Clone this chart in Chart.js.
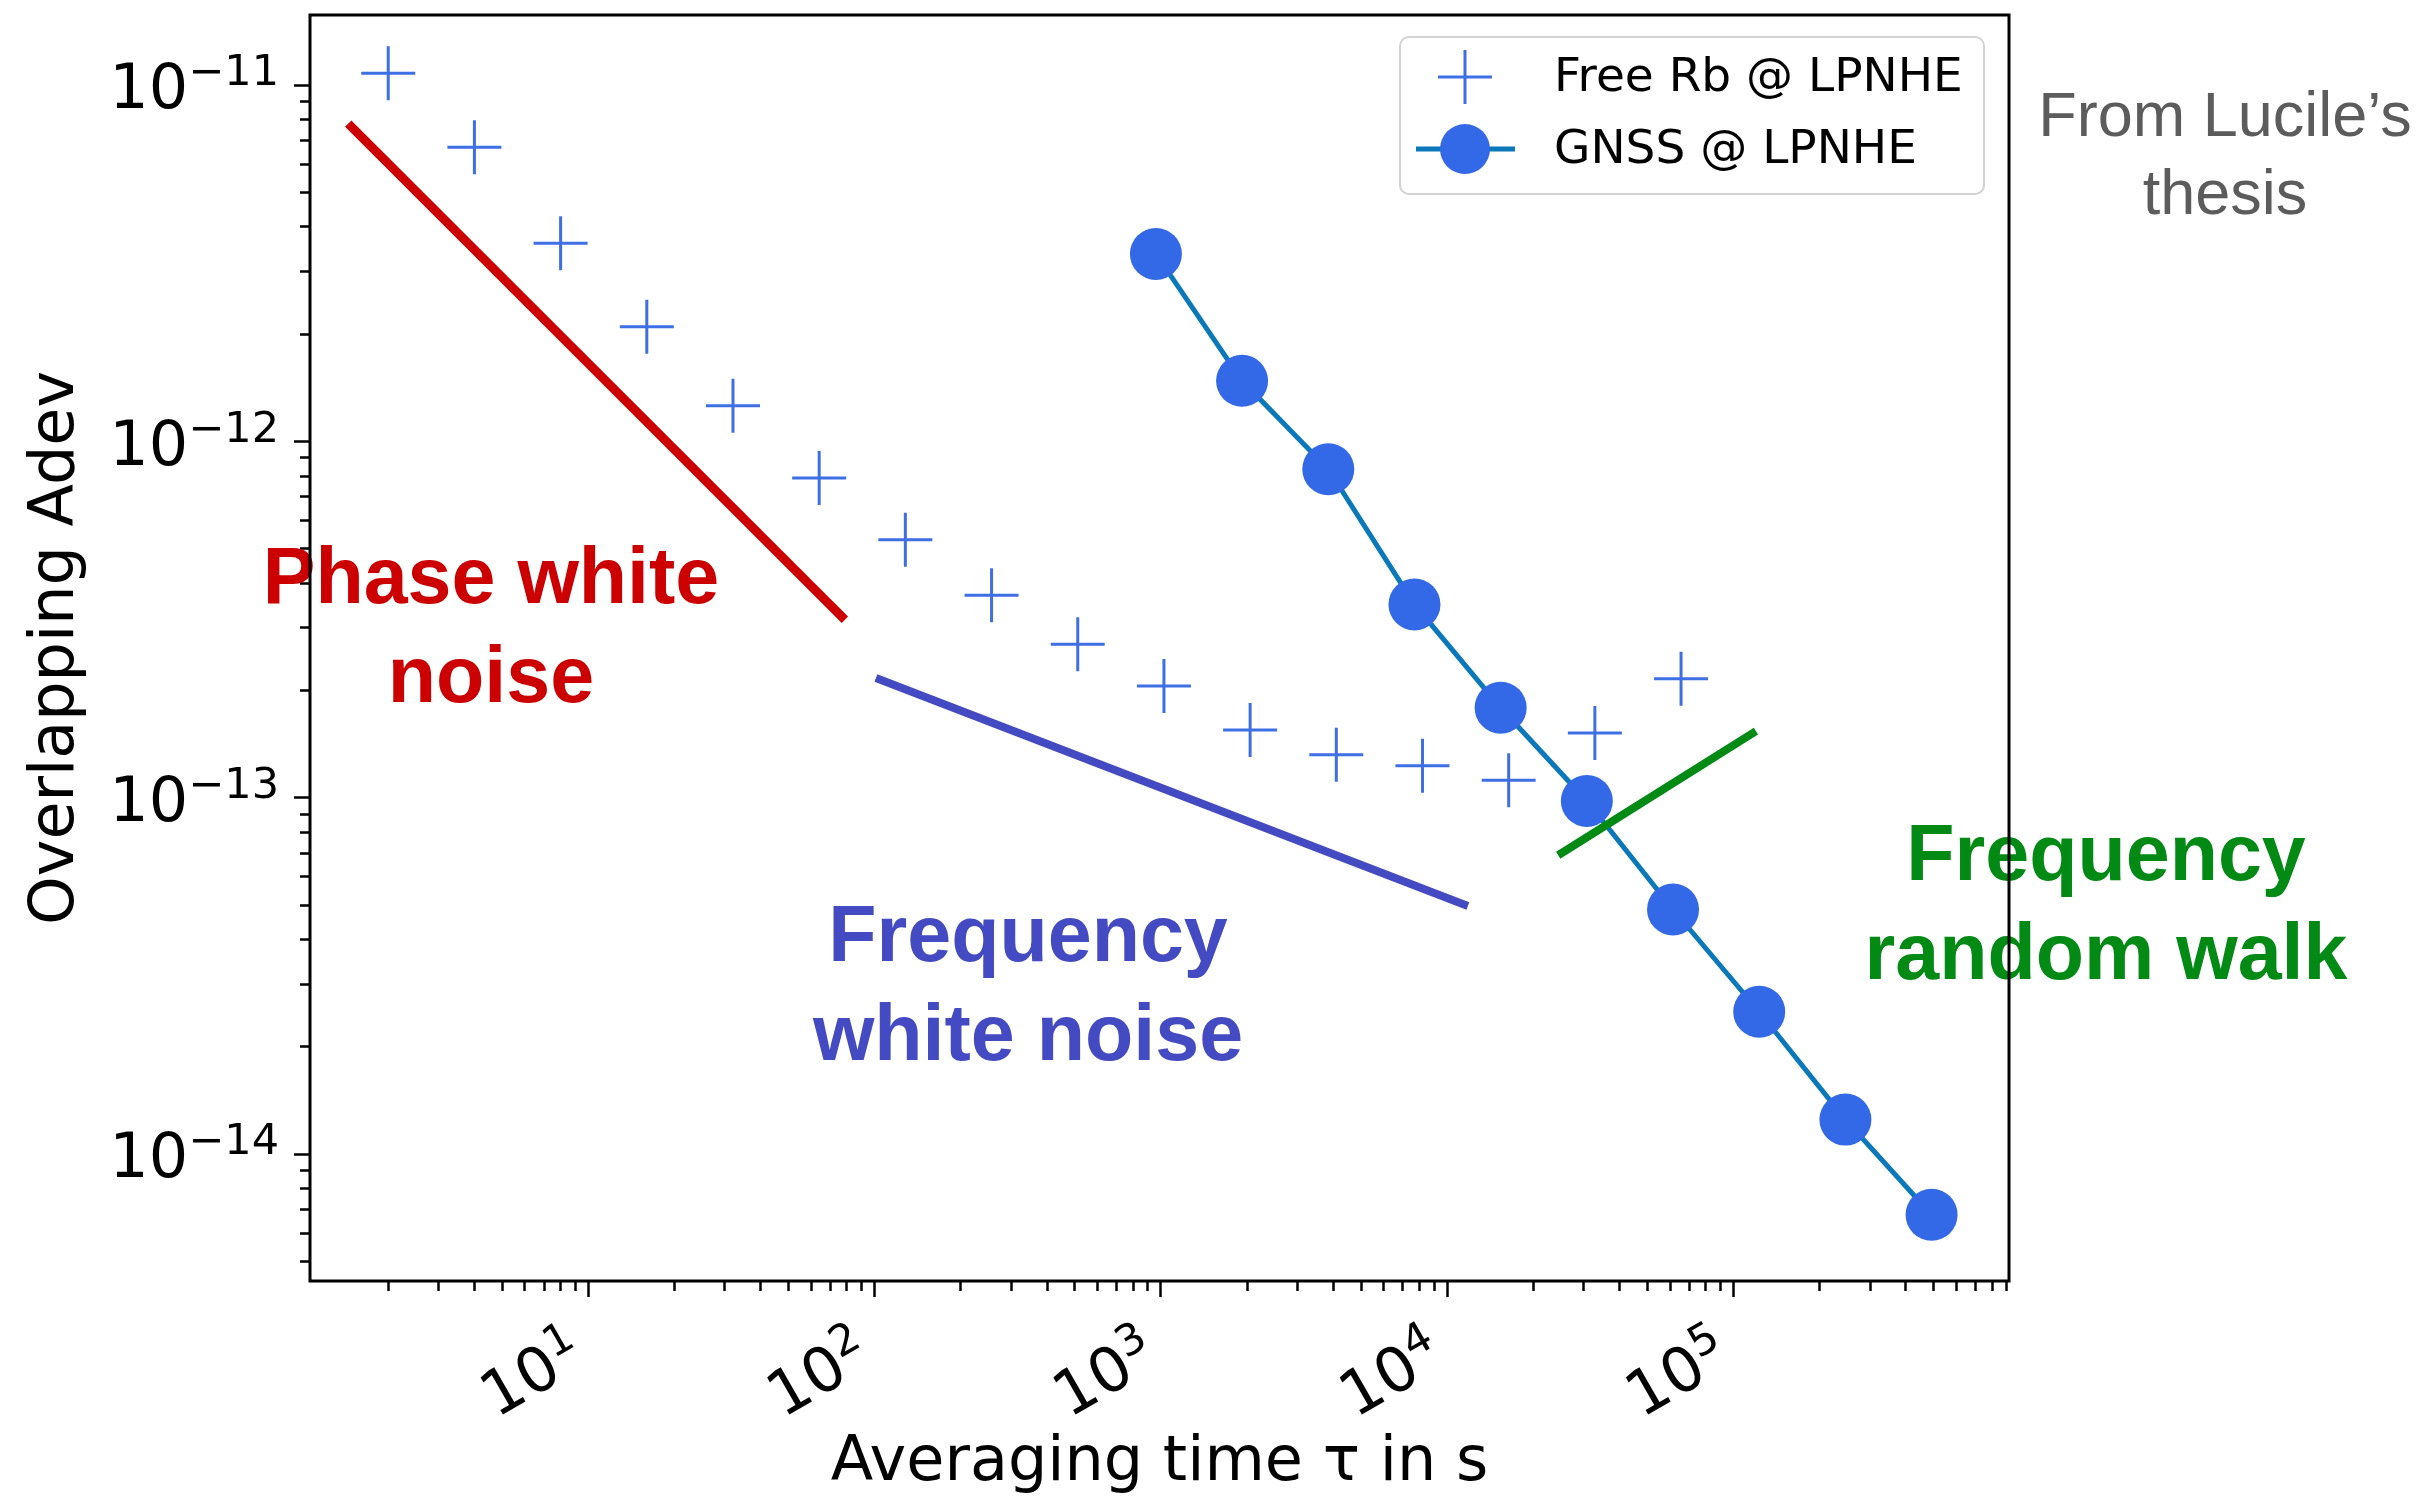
<!DOCTYPE html>
<html>
<head>
<meta charset="utf-8">
<script src="https://cdn.jsdelivr.net/npm/chart.js@4.4.1/dist/chart.umd.min.js"></script>
<style>
  html, body { margin: 0; padding: 0; background: #fff; }
  canvas { display: block; }
</style>
</head>
<body>
<canvas id="adevChart" width="2429" height="1498"></canvas>
<script>
// averaging time tau (s) and overlapping Allan deviation
const rbTau = [2, 4, 8, 16, 32, 64, 128, 256, 512, 1024, 2048, 4096, 8192, 16384, 32768, 65536];
const rbAdev = [1.08e-11, 6.7e-12, 3.6e-12, 2.1e-12, 1.26e-12, 7.9e-13, 5.3e-13, 3.7e-13, 2.7e-13,
                2.06e-13, 1.55e-13, 1.32e-13, 1.23e-13, 1.12e-13, 1.52e-13, 2.16e-13];
const gnssTau = [960, 1920, 3840, 7680, 15360, 30720, 61440, 122880, 245760, 491520];
const gnssAdev = [3.36e-12, 1.48e-12, 8.36e-13, 3.49e-13, 1.79e-13, 9.8e-14, 4.86e-14, 2.51e-14, 1.25e-14, 6.76e-15];

// guide lines for the noise types, start and end point each
const phaseWhiteTau = [1.45, 78.7];
const phaseWhiteAdev = [7.8e-12, 3.16e-13];
const freqWhiteTau = [101, 11800];
const freqWhiteAdev = [2.17e-13, 4.97e-14];
const freqWalkTau = [24400, 119700];
const freqWalkAdev = [6.9e-14, 1.54e-13];

// decade ticks: [mantissa, exponent]
const xTickValues = [10, 100, 1000, 10000, 100000];
const xTickLabels = [['10', '1'], ['10', '2'], ['10', '3'], ['10', '4'], ['10', '5']];
const yTickValues = [1e-14, 1e-13, 1e-12, 1e-11];
const yTickLabels = [['10', '\u221214'], ['10', '\u221213'], ['10', '\u221212'], ['10', '\u221211']];

const pts = (xs, ys) => xs.map((x, i) => ({ x: x, y: ys[i] }));

function findDecade(values, v) {
    return values.findIndex(t => Math.abs(Math.log10(t) - Math.log10(v)) < 1e-6);
}

// 1..9 x 10^n ticks inside the axis range
function logTicks(scale) {
    const ticks = [];
    const lo = Math.floor(Math.log10(scale.min));
    const hi = Math.ceil(Math.log10(scale.max));
    for (let d = lo; d <= hi; d++) {
        for (let m = 1; m <= 9; m++) {
            const v = m * Math.pow(10, d);
            if (v > scale.min && v < scale.max) ticks.push({ value: v, major: m === 1 });
        }
    }
    scale.ticks = ticks;
}

const isDecade = v => Math.abs(Math.log10(v) - Math.round(Math.log10(v))) < 1e-6;

const BASE_FONT = '62px "DejaVu Sans", sans-serif';
const SUP_FONT = '43px "DejaVu Sans", sans-serif';

// tick labels as 10 with a raised exponent
const powerLabels = {
    id: 'powerLabels',
    afterDraw(chart) {
        const c = chart.ctx;
        c.save();
        c.fillStyle = '#000';
        c.textBaseline = 'alphabetic';
        c.textAlign = 'left';

        const xs = chart.scales.x;
        xs.ticks.forEach(t => {
            if (!Array.isArray(t.label)) return;
            const [base, sup] = t.label;
            c.font = BASE_FONT;
            const wb = c.measureText(base).width;
            c.font = SUP_FONT;
            const ws = c.measureText(sup).width;
            c.save();
            c.translate(xs.getPixelForValue(t.value) + 0, xs.top + 84);
            c.rotate(-Math.PI / 6);
            c.font = BASE_FONT;
            c.fillText(base, -(wb + ws), 0);
            c.font = SUP_FONT;
            c.fillText(sup, -ws, -23);
            c.restore();
        });

        const ys = chart.scales.y;
        ys.ticks.forEach(t => {
            if (!Array.isArray(t.label)) return;
            const [base, sup] = t.label;
            const py = ys.getPixelForValue(t.value);
            const right = ys.right - 31;
            c.font = SUP_FONT;
            const ws = c.measureText(sup).width;
            c.fillText(sup, right - ws, py);
            c.font = BASE_FONT;
            const wb = c.measureText(base).width;
            c.fillText(base, right - ws - wb, py + 23);
        });
        c.restore();
    }
};

const notes = [
    { lines: ['Phase white', 'noise'], color: '#cc0000', x: 491, y: 603, font: 'bold 79px "Liberation Sans", Arial, sans-serif', step: 99 },
    { lines: ['Frequency', 'white noise'], color: '#444bc2', x: 1028, y: 961, font: 'bold 79px "Liberation Sans", Arial, sans-serif', step: 99 },
    { lines: ['Frequency', 'random walk'], color: '#028a15', x: 2106, y: 880, font: 'bold 79px "Liberation Sans", Arial, sans-serif', step: 99 },
    { lines: ['From Lucile\u2019s', 'thesis'], color: '#5c5c5c', x: 2225, y: 136, font: '63px "Liberation Sans", Arial, sans-serif', step: 78 }
];

const notesPlugin = {
    id: 'notes',
    afterDatasetsDraw(chart) {
        const c = chart.ctx;
        c.save();
        c.textAlign = 'center';
        c.textBaseline = 'alphabetic';
        notes.forEach(n => {
            c.font = n.font;
            c.fillStyle = n.color;
            n.lines.forEach((t, i) => c.fillText(t, n.x, n.y + i * n.step));
        });
        c.restore();
    }
};

// boxed legend in the upper right corner of the plot
const boxLegend = {
    id: 'boxLegend',
    afterDatasetsDraw(chart) {
        const c = chart.ctx;
        const a = chart.chartArea;
        const right = a.right - 25, top = a.top + 22;
        const w = 584, h = 157;
        const left = right - w;
        c.save();
        c.beginPath();
        c.roundRect(left, top, w, h, 9);
        c.fillStyle = 'rgba(255,255,255,0.85)';
        c.fill();
        c.lineWidth = 2;
        c.strokeStyle = '#d2d2d2';
        c.stroke();

        const items = chart.data.datasets.filter(d => d.label);
        items.forEach((d, i) => {
            const cy = top + 40 + i * 72;
            const mx = left + 65;
            if (d.showLine) {
                c.beginPath();
                c.moveTo(left + 16, cy);
                c.lineTo(left + 115, cy);
                c.lineWidth = d.borderWidth;
                c.strokeStyle = d.borderColor;
                c.stroke();
            }
            c.fillStyle = d.pointBackgroundColor;
            c.strokeStyle = d.pointBorderColor;
            c.lineWidth = d.pointBorderWidth;
            c.beginPath();
            if (d.pointStyle === 'cross') {
                const r = d.pointRadius;
                c.moveTo(mx - r, cy); c.lineTo(mx + r, cy);
                c.moveTo(mx, cy - r); c.lineTo(mx, cy + r);
                c.stroke();
            } else {
                c.arc(mx, cy, 25, 0, Math.PI * 2);
                c.fill();
            }
            c.font = '47px "DejaVu Sans", sans-serif';
            c.fillStyle = '#000';
            c.textAlign = 'left';
            c.textBaseline = 'middle';
            c.fillText(d.label, left + 154, cy + 2);
        });
        c.restore();
    }
};

// closed black frame round the plot area
const framePlugin = {
    id: 'frame',
    afterDraw(chart) {
        const a = chart.chartArea;
        const c = chart.ctx;
        c.save();
        c.lineWidth = 3;
        c.strokeStyle = '#000';
        c.strokeRect(a.left, a.top, a.right - a.left, a.bottom - a.top);
        c.restore();
    }
};

Chart.defaults.font.family = '"DejaVu Sans", sans-serif';
Chart.defaults.color = '#000';

const ctx = document.getElementById('adevChart').getContext('2d');
const adevChart = new Chart(ctx, {
    type: 'scatter',
    data: {
        datasets: [
            {
                label: '', data: pts(phaseWhiteTau, phaseWhiteAdev), showLine: true,
                borderColor: '#cc0000', borderWidth: 9, pointRadius: 0, order: 0
            },
            {
                label: '', data: pts(freqWhiteTau, freqWhiteAdev), showLine: true,
                borderColor: '#444bc2', borderWidth: 8, pointRadius: 0, order: 0
            },
            {
                label: '', data: pts(freqWalkTau, freqWalkAdev), showLine: true,
                borderColor: '#028a15', borderWidth: 8, pointRadius: 0, order: 0
            },
            {
                label: 'Free Rb @ LPNHE', data: pts(rbTau, rbAdev), showLine: false,
                pointStyle: 'cross', pointRadius: 27, pointBorderWidth: 3,
                pointBorderColor: '#3f6fe4', pointBackgroundColor: '#3f6fe4', order: 2
            },
            {
                label: 'GNSS @ LPNHE', data: pts(gnssTau, gnssAdev), showLine: true,
                borderColor: '#0b79b9', borderWidth: 5,
                pointStyle: 'circle', pointRadius: 26, pointBorderWidth: 0,
                pointBorderColor: '#3369e6', pointBackgroundColor: '#3369e6', order: 1
            }
        ]
    },
    options: {
        responsive: false,
        animation: false,
        events: [],
        layout: { autoPadding: false, padding: { left: 0, top: 15, right: 420, bottom: 0 } },
        plugins: { legend: { display: false }, tooltip: { enabled: false } },
        scales: {
            x: {
                type: 'logarithmic',
                min: 1.066,
                max: 9.16e5,
                afterBuildTicks: logTicks,
                afterFit: s => {
                    s.height = 217;
                    s.paddingLeft = 0;
                    s.paddingRight = 0;
                },
                border: { display: false },
                grid: {
                    drawOnChartArea: false,
                    tickLength: 16,
                    tickWidth: 2.5,
                    tickColor: '#000',
                    tickBorderDash: c => isDecade(c.tick.value) ? [] : [10, 100]
                },
                ticks: {
                    display: false,
                    autoSkip: false,
                    callback: v => {
                        const i = findDecade(xTickValues, v);
                        return i >= 0 ? xTickLabels[i] : '';
                    }
                },
                title: {
                    display: true,
                    text: 'Averaging time τ in s',
                    font: { size: 62 },
                    padding: { top: 0, bottom: -3 }
                }
            },
            y: {
                type: 'logarithmic',
                min: Math.pow(10, -14.356),
                max: Math.pow(10, -10.803),
                afterBuildTicks: logTicks,
                afterFit: s => {
                    s.width = 310;
                    s.paddingTop = 0;
                    s.paddingBottom = 0;
                },
                border: { display: false },
                grid: {
                    drawOnChartArea: false,
                    tickLength: 16,
                    tickWidth: 2.5,
                    tickColor: '#000',
                    tickBorderDash: c => isDecade(c.tick.value) ? [] : [0, 6, 10, 100]
                },
                ticks: {
                    display: false,
                    autoSkip: false,
                    callback: v => {
                        const i = findDecade(yTickValues, v);
                        return i >= 0 ? yTickLabels[i] : '';
                    }
                },
                title: {
                    display: true,
                    text: 'Overlapping Adev',
                    font: { size: 62 },
                    padding: { top: 20, bottom: 0 }
                }
            }
        }
    },
    plugins: [notesPlugin, boxLegend, framePlugin, powerLabels]
});
</script>
</body>
</html>
